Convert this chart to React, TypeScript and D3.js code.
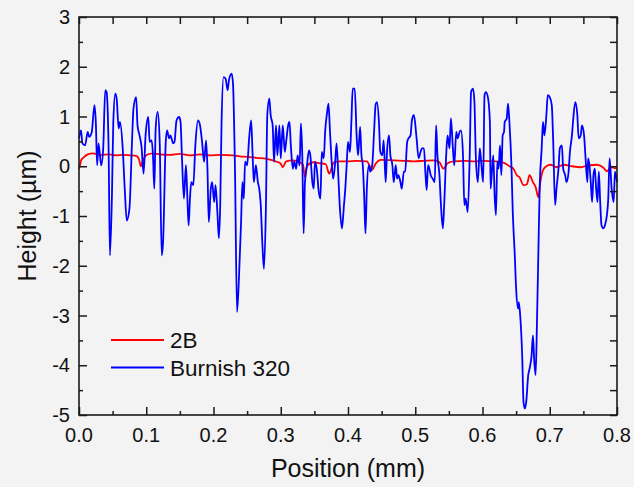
import React, { useEffect, useRef } from 'react';
import * as d3 from 'd3';

// Burnish 320 profile (position mm, height µm)
const blueX = [0.000, 0.003, 0.005, 0.009, 0.013, 0.015, 0.019, 0.023, 0.025, 0.027, 0.029, 0.033, 0.036, 0.039, 0.041, 0.044, 0.046, 0.049, 0.051, 0.054, 0.056, 0.059, 0.061, 0.065, 0.068, 0.071, 0.075, 0.079, 0.081, 0.085, 0.087, 0.090, 0.093, 0.096,
  0.099, 0.103, 0.105, 0.108, 0.110, 0.112, 0.114, 0.117, 0.120, 0.123, 0.125, 0.129, 0.131, 0.134, 0.136, 0.140, 0.142, 0.145, 0.149, 0.151, 0.153, 0.156, 0.159, 0.161, 0.163, 0.165, 0.167, 0.170, 0.173, 0.177, 0.180, 0.183, 0.186, 0.189, 0.191, 0.193, 0.196, 0.198, 0.201, 0.203,
  0.206, 0.208, 0.210, 0.212, 0.215, 0.218, 0.221, 0.223, 0.227, 0.229, 0.232, 0.235, 0.238, 0.241, 0.243, 0.245, 0.247, 0.250, 0.253, 0.256, 0.258, 0.260, 0.263, 0.266, 0.268, 0.270, 0.273, 0.275, 0.278, 0.280, 0.283, 0.285, 0.288, 0.290, 0.293, 0.295, 0.298, 0.300, 0.303,
  0.306, 0.308, 0.311, 0.313, 0.315, 0.318, 0.320, 0.323, 0.325, 0.328, 0.330, 0.332, 0.334, 0.336, 0.339, 0.342, 0.344, 0.347, 0.349, 0.351, 0.354, 0.356, 0.359, 0.361, 0.364, 0.366, 0.369, 0.371, 0.373, 0.376, 0.378, 0.381, 0.383, 0.386, 0.388, 0.391, 0.394, 0.396,
  0.398, 0.400, 0.403, 0.405, 0.407, 0.410, 0.413, 0.415, 0.418, 0.420, 0.422, 0.424, 0.426, 0.428, 0.431, 0.433, 0.436, 0.439, 0.441, 0.443, 0.446, 0.448, 0.451, 0.453, 0.456, 0.458, 0.461, 0.463, 0.466, 0.468, 0.471, 0.473, 0.475, 0.478, 0.480, 0.483, 0.485, 0.488, 0.490, 0.493, 0.495, 0.498,
  0.502, 0.505, 0.508, 0.510, 0.513, 0.515, 0.517, 0.519, 0.521, 0.523, 0.526, 0.529, 0.531, 0.533, 0.536, 0.538, 0.541, 0.543, 0.546, 0.548, 0.551, 0.553, 0.556, 0.558, 0.561, 0.563, 0.566, 0.568, 0.571, 0.573, 0.575, 0.578, 0.581, 0.583, 0.586, 0.588, 0.590, 0.593,
  0.596, 0.598, 0.601, 0.603, 0.605, 0.608, 0.611, 0.612, 0.614, 0.616, 0.618, 0.620, 0.622, 0.624, 0.626, 0.628, 0.630, 0.632, 0.633, 0.636, 0.638, 0.640, 0.643, 0.645, 0.648, 0.650, 0.653, 0.654, 0.656, 0.659, 0.661, 0.663, 0.665, 0.668, 0.670, 0.673, 0.675, 0.677, 0.679, 0.681, 0.683, 0.685, 0.688, 0.690, 0.692, 0.695, 0.697,
  0.700, 0.703, 0.705, 0.708, 0.710, 0.713, 0.715, 0.718, 0.720, 0.723, 0.725, 0.728, 0.730, 0.733, 0.735, 0.738, 0.741, 0.743, 0.746, 0.748, 0.751, 0.753, 0.756, 0.757, 0.759, 0.761, 0.763, 0.765, 0.767, 0.769, 0.771, 0.773, 0.775, 0.777, 0.780, 0.782, 0.785, 0.787, 0.789, 0.792, 0.795, 0.797, 0.800];
const blueY = [0.56, 0.72, 0.46, 0.42, 0.69, 0.59, 0.69, 1.23, 0.89, 0.02, 0.46, 0.02, 0.36, 1.53, 1.49, 0.36, -1.79, -0.58, 0.89, 1.46, 1.36, 0.76, 0.89, 0.36, -0.45, -1.09, -0.85, 0.56, 1.16, 1.39, 0.82, 0.62, 0.39, -0.15,
  0.62, 0.99, 0.49, 0.52, 0.22, -0.45, 0.76, 1.09, 0.49, -1.79, -1.52, 0.49, 0.72, 0.56, 0.62, 0.46, 0.49, 0.92, 0.99, 0.89, 0.22, -0.65, 0.02, -0.58, -1.19, -0.65, -0.32, -0.38, 0.42, 0.92, 0.82, 0.49, 0.09, 0.52, -0.05, -1.12, -0.45, -0.32, -0.72, -0.38,
  -0.98, -1.45, -0.78, 0.89, 1.79, 1.76, 1.53, 1.73, 1.86, 1.66, -0.11, -2.93, -2.19, -1.12, -0.32, -0.65, 0.09, 0.02, 0.56, 0.92, 0.29, -0.32, 0.02, -0.32, -0.45, -0.72, -1.65, -2.06, -0.78, 1.03, 1.36, 1.03, 0.82, 0.09, 0.82, 0.22, 0.82, 0.16, 0.82,
  0.29, 0.49, 0.82, 0.89, 0.42, -0.05, 0.09, -0.05, 0.22, 0.02, 0.86, 0.22, -1.35, -0.32, 0.02, 0.32, 0.22, -0.32, -0.45, 0.09, -0.11, -0.45, -0.65, 0.29, 0.16, 0.69, 1.09, 1.26, 0.76, 0.02, -0.25, 0.09, 0.46, -0.32, -0.85, -1.25, -0.78, -0.45,
  0.02, 0.49, 0.29, 0.89, 1.56, 1.56, 0.56, 0.22, 0.79, 0.22, 0.02, -0.58, -1.35, -0.45, 0.02, -0.11, 0.02, 0.76, 1.23, 1.29, 0.89, 0.29, 0.22, 0.52, -0.32, 0.29, 0.62, 0.22, 0.02, -0.32, 0.02, -0.25, -0.18, -0.32, -0.45, -0.11, -0.11, 0.49, 0.56, 0.62, 0.92, 1.03,
  0.56, 0.16, 0.29, 0.36, 0.36, -0.11, -0.48, 0.02, -0.05, -0.18, -0.25, -0.32, 0.82, 0.22, -0.18, -0.72, -1.25, -0.78, 0.22, 0.62, 0.36, 0.96, 0.36, 0.02, 0.69, 0.56, 0.69, 0.72, 0.22, -0.78, -0.65, -0.92, 0.22, 1.49, 1.56, 1.29, 0.22, -0.32,
  0.36, 0.09, -0.32, 1.43, 1.49, 1.39, 0.89, -0.45, -0.11, 0.22, -0.58, -0.98, 0.09, -0.05, 0.42, -0.18, 0.62, 0.69, 0.89, 0.96, 1.26, 0.89, 0.02, -0.92, -1.79, -2.46, -2.86, -2.73, -2.99, -3.80, -4.74, -4.87, -4.74, -4.20, -4.07, -3.80, -3.40, -3.93, -4.20, -3.13, -1.79, -0.45, 0.36, 0.89, 0.62, 1.03, 1.43,
  1.39, 1.23, 0.56, -0.78, -0.45, -0.05, 0.36, 0.42, -0.05, -0.18, -0.32, -0.11, 0.29, 0.62, 0.96, 1.29, 1.03, 0.56, 0.62, 0.82, 0.62, 0.22, -0.32, 0.16, 0.02, -0.32, -0.72, -0.18, -0.05, -0.45, -0.72, -0.11, -0.72, -1.19, -1.25, -1.19, -0.98, -0.65, 0.16, -0.45, -0.72, -0.11, -0.32];

// 2B profile
const redX = [0.000, 0.002, 0.003, 0.007, 0.013, 0.021, 0.031, 0.045, 0.055, 0.065, 0.076, 0.085, 0.089, 0.092, 0.095, 0.101, 0.110, 0.120, 0.135, 0.150, 0.165, 0.180, 0.195, 0.210, 0.229, 0.239, 0.250, 0.264, 0.279, 0.294, 0.300, 0.303, 0.308, 0.318, 0.328, 0.333, 0.336, 0.339, 0.348, 0.358, 0.367, 0.372, 0.379, 0.388, 0.398, 0.413, 0.428, 0.436, 0.441, 0.449, 0.468, 0.483, 0.498, 0.513, 0.528, 0.536, 0.542, 0.548, 0.557, 0.574, 0.588, 0.603, 0.617, 0.632, 0.640, 0.646, 0.651, 0.655, 0.661, 0.666, 0.670, 0.675, 0.679, 0.683, 0.686, 0.690, 0.695, 0.701, 0.710, 0.721, 0.733, 0.746, 0.759, 0.770, 0.779, 0.785, 0.791, 0.798, 0.800];
const redY = [-0.05, 0.05, 0.12, 0.18, 0.24, 0.26, 0.23, 0.24, 0.22, 0.23, 0.22, 0.21, 0.15, 0.0, 0.12, 0.23, 0.26, 0.24, 0.23, 0.25, 0.22, 0.24, 0.22, 0.23, 0.22, 0.2, 0.19, 0.17, 0.15, 0.09, 0.05, -0.02, 0.1, 0.12, 0.08, 0.03, -0.22, 0.0, 0.08, 0.06, 0.04, -0.15, 0.08, 0.1, 0.1, 0.11, 0.1, -0.07, 0.05, 0.13, 0.12, 0.11, 0.1, 0.11, 0.12, 0.08, -0.05, 0.06, 0.1, 0.11, 0.1, 0.11, 0.1, 0.07, 0.0, -0.05, -0.18, -0.22, -0.38, -0.36, -0.18, -0.32, -0.42, -0.62, -0.32, -0.08, 0.0, 0.03, -0.02, 0.03, 0.0, -0.02, 0.02, 0.03, -0.02, -0.1, -0.02, -0.04, -0.03];

const xTickLabels = ['0.0', '0.1', '0.2', '0.3', '0.4', '0.5', '0.6', '0.7', '0.8'];
const yTickLabels = ['-5', '-4', '-3', '-2', '-1', '0', '1', '2', '3'];
const seriesNames = ['2B', 'Burnish 320'];
const seriesColors = ['#ff0000', '#0000ff'];

function App() {
  const svgRef = useRef(null);

  useEffect(() => {
    const svg = d3.select(svgRef.current);
    svg.selectAll('*').remove();

    const width = 634;
    const height = 487;
    const margin = { top: 17, right: 17, bottom: 72, left: 79 };
    const font = '"Liberation Sans", Arial, sans-serif';
    const axisColor = '#1a1a1a';

    const x = d3.scaleLinear().domain([0, 0.8]).range([margin.left, width - margin.right]);
    const y = d3.scaleLinear().domain([-5, 3]).range([height - margin.bottom, margin.top]);

    svg.append('rect').attr('width', width).attr('height', height).attr('fill', '#f3f3f3');

    const line = d3.line()
      .x(d => x(d[0]))
      .y(d => y(d[1]))
      .curve(d3.curveMonotoneX);

    const blue = blueX.map((v, i) => [v, blueY[i]]);
    const red = redX.map((v, i) => [v, redY[i]]);

    svg.append('path').datum(red)
      .attr('fill', 'none').attr('stroke', seriesColors[0]).attr('stroke-width', 1.8)
      .attr('stroke-linejoin', 'round').attr('d', line);
    svg.append('path').datum(blue)
      .attr('fill', 'none').attr('stroke', seriesColors[1]).attr('stroke-width', 1.8)
      .attr('stroke-linejoin', 'round').attr('d', line);

    const xMajor = d3.range(0, 9).map(i => i * 0.1);
    const xMinor = d3.range(0, 8).map(i => i * 0.1 + 0.05);
    const yMajor = d3.range(-5, 4);
    const yMinor = d3.range(-5, 3).map(v => v + 0.5);

    const styleAxis = g => {
      g.select('.domain').remove();
      g.selectAll('line').attr('stroke', axisColor).attr('stroke-width', 1.5);
    };

    // bottom
    svg.append('g').attr('transform', `translate(0,${y(-5)})`)
      .call(d3.axisBottom(x).tickValues(xMajor).tickSize(-8).tickFormat(''))
      .call(styleAxis);
    svg.append('g').attr('transform', `translate(0,${y(-5)})`)
      .call(d3.axisBottom(x).tickValues(xMinor).tickSize(-4).tickFormat(''))
      .call(styleAxis);
    // top
    svg.append('g').attr('transform', `translate(0,${y(3)})`)
      .call(d3.axisTop(x).tickValues(xMajor.concat(xMinor)).tickSize(-7).tickFormat(''))
      .call(styleAxis);
    // left
    svg.append('g').attr('transform', `translate(${x(0)},0)`)
      .call(d3.axisLeft(y).tickValues(yMajor).tickSize(-8).tickFormat(''))
      .call(styleAxis);
    svg.append('g').attr('transform', `translate(${x(0)},0)`)
      .call(d3.axisLeft(y).tickValues(yMinor).tickSize(-4).tickFormat(''))
      .call(styleAxis);
    // right
    svg.append('g').attr('transform', `translate(${x(0.8)},0)`)
      .call(d3.axisRight(y).tickValues(yMajor.concat(yMinor)).tickSize(-7).tickFormat(''))
      .call(styleAxis);

    // frame
    svg.append('rect')
      .attr('x', x(0)).attr('y', y(3))
      .attr('width', x(0.8) - x(0)).attr('height', y(-5) - y(3))
      .attr('fill', 'none').attr('stroke', axisColor).attr('stroke-width', 1.6);

    // tick labels
    svg.selectAll('.xl').data(xTickLabels).enter().append('text')
      .attr('x', (_, i) => x(xMajor[i])).attr('y', y(-5) + 27)
      .attr('text-anchor', 'middle')
      .style('font-family', font).style('font-size', '20px').style('fill', '#111')
      .text(d => d);

    svg.selectAll('.yl').data(yTickLabels).enter().append('text')
      .attr('x', x(0) - 9).attr('y', (_, i) => y(yMajor[i]) + 7)
      .attr('text-anchor', 'end')
      .style('font-family', font).style('font-size', '20px').style('fill', '#111')
      .text(d => d);

    // axis titles
    svg.append('text')
      .attr('x', (x(0) + x(0.8)) / 2).attr('y', 477)
      .attr('text-anchor', 'middle')
      .style('font-family', font).style('font-size', '25px').style('fill', '#111')
      .text('Position (mm)');

    svg.append('text')
      .attr('transform', `translate(36,${(y(3) + y(-5)) / 2}) rotate(-90)`)
      .attr('text-anchor', 'middle')
      .style('font-family', font).style('font-size', '25px').style('fill', '#111')
      .text('Height (µm)');

    // legend
    const legend = svg.append('g');
    seriesNames.forEach((name, i) => {
      const ly = 340 + i * 27.5;
      legend.append('line')
        .attr('x1', 111).attr('x2', 164).attr('y1', ly).attr('y2', ly)
        .attr('stroke', seriesColors[i]).attr('stroke-width', 1.8);
      legend.append('text')
        .attr('x', 170).attr('y', ly + 8)
        .style('font-family', font).style('font-size', '22.5px').style('fill', '#111')
        .text(name);
    });
  }, []);

  return (
    <div style={{ position: 'absolute', left: 0, top: 0 }}>
      <svg ref={svgRef} width={634} height={487} style={{ display: 'block' }}></svg>
    </div>
  );
}

export default App;
